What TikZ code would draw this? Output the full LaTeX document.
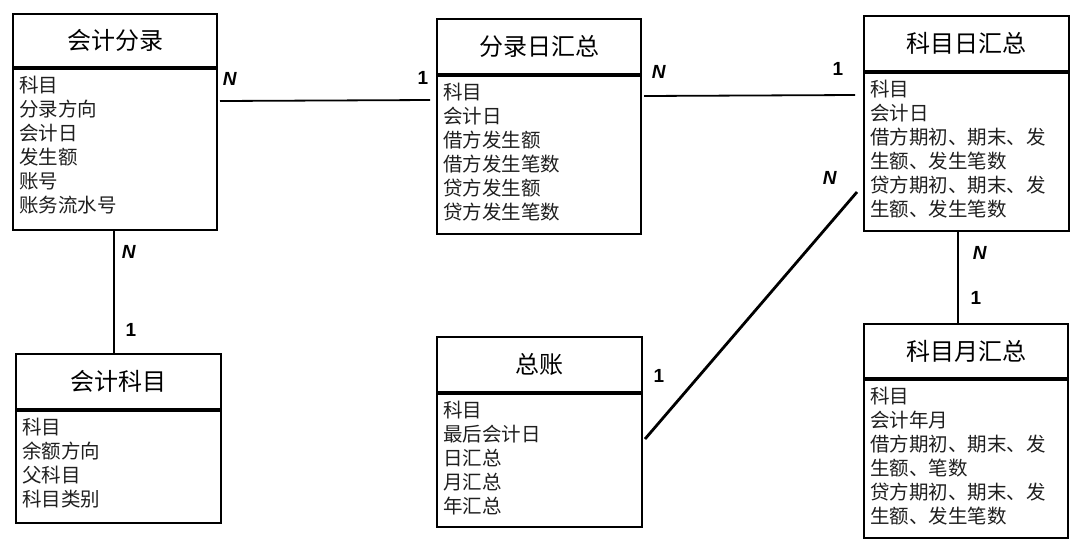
\documentclass[tikz,border=0pt]{standalone}
\usepackage{fontspec}
\setmainfont{Noto Sans CJK SC}
\newfontfamily\cardfont{Liberation Sans}
\usetikzlibrary{calc}
\tikzset{
  hdrbox/.style={draw=black, line width=2pt, fill=white, inner sep=0pt, font=\fontsize{24}{28}\selectfont},
  bodybox/.style={draw=black, line width=2pt, inner sep=0pt},
  rowtext/.style={inner sep=0pt, font=\fontsize{19.5}{24}\selectfont, text=black!88},
  card/.style={inner sep=0pt, font=\cardfont\bfseries\fontsize{19}{21}\selectfont},
  link/.style={draw=black, line width=1.8pt},
  heavylink/.style={draw=black, line width=2.8pt},
}
% #1 name, #2 left x, #3 top y, #4 divider y, #5 bottom y, #6 width, #7 title, #8 rows
\newcommand\ertable[8]{%
  \node[hdrbox, minimum width=#6, minimum height=#4-#3, anchor=north west] (#1-h) at (#2,#3) {#7};
  \node[bodybox, minimum width=#6, minimum height=#5-#4, anchor=north west] (#1) at (#1-h.south west) {};
  \foreach \t [count=\i] in {#8}
    \node[rowtext, anchor=base west] (#1-r\i) at ($(#1.north west)+(7,24.5+24*\i-24)$) {\t};
}
\begin{document}
\begin{tikzpicture}[x=1pt, y=-1pt]
\useasboundingbox[fill=white] (0,0) rectangle (1080,547);

\ertable{fl}{12}{13}{66}{227}{204}{会计分录}{科目,分录方向,会计日,发生额,账号,账务流水号}
\ertable{fr}{436}{18}{73}{231}{204}{分录日汇总}{科目,会计日,借方发生额,借方发生笔数,贷方发生额,贷方发生笔数}
\ertable{kr}{863}{15}{70}{228}{205}{科目日汇总}{科目,会计日,借方期初、期末、发,生额、发生笔数,贷方期初、期末、发,生额、发生笔数}
\ertable{km}{15}{353}{408}{520}{205}{会计科目}{科目,余额方向,父科目,科目类别}
\ertable{zz}{436}{336}{391}{524}{205}{总账}{科目,最后会计日,日汇总,月汇总,年汇总}
\ertable{ky}{863}{323}{377}{535}{204}{科目月汇总}{科目,会计年月,借方期初、期末、发,生额、笔数,贷方期初、期末、发,生额、发生笔数}

% connectors
\draw[link] ([shift={(2,33)}]fl.north east) -- ([shift={(-6,25)}]fr.north west);
\draw[link] ([shift={(2,21)}]fr.north east) -- ([shift={(-8,23)}]kr.north west);
\coordinate (p3) at ([xshift=-4.5]km-h.north);
\draw[heavylink] (p3 |- fl.south) -- (p3);
\coordinate (p4) at ([xshift=-8]ky-h.north);
\draw[heavylink] (p4 |- kr.south) -- (p4);
\draw[heavylink] ([shift={(2,46)}]zz.north east) -- ([shift={(-6,120)}]kr.north west);

% cardinalities
\node[card] (c1n) at (230,79) {\textit{N}};
\node[card] (c1o) at (423,78) {1};
\node[card] (c2n) at (659,72) {\textit{N}};
\node[card] (c2o) at (838,69) {1};
\node[card] (c3n) at (129,252) {\textit{N}};
\node[card] (c3o) at (131,330) {1};
\node[card] (c4n) at (980,253) {\textit{N}};
\node[card] (c4o) at (976,298) {1};
\node[card] (c5n) at (830,178) {\textit{N}};
\node[card] (c5o) at (659,376) {1};
\end{tikzpicture}
\end{document}
